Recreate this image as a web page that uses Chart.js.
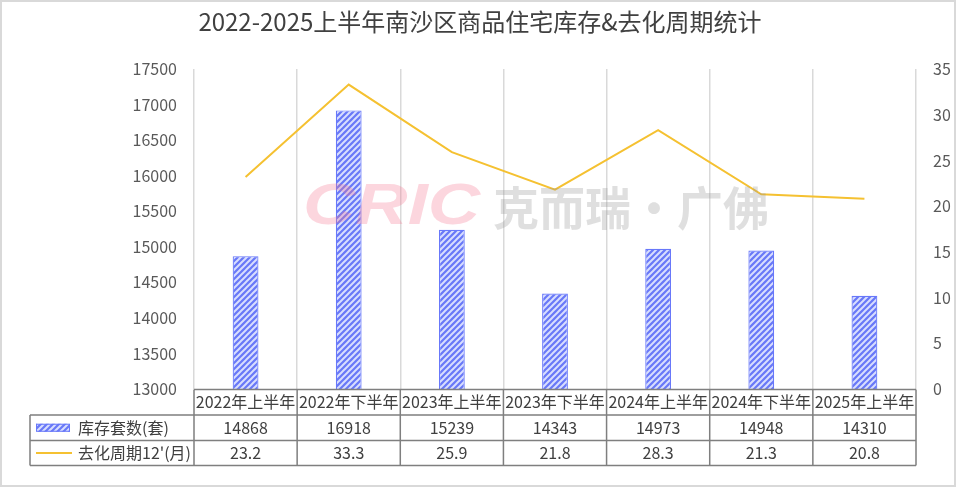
<!DOCTYPE html>
<html><head><meta charset="utf-8">
<script src="https://cdn.jsdelivr.net/npm/chart.js@4.4.1/dist/chart.umd.min.js"></script>
<style>html,body{margin:0;padding:0;background:#fff;}#wrap{width:960px;height:498px;}</style>
</head><body><div id="wrap"><canvas id="c" width="960" height="498"></canvas></div>
<script>
const titleText = '2022-2025上半年南沙区商品住宅库存&去化周期统计';
const categories = ['2022年上半年','2022年下半年','2023年上半年','2023年下半年','2024年上半年','2024年下半年','2025年上半年'];
const inventory = [14868,16918,15239,14343,14973,14948,14310];
const cycle = [23.2,33.3,25.9,21.8,28.3,21.3,20.8];
const seriesNames = ['库存套数(套)', "去化周期12'(月)"];
const leftAxis = [13000, 17500, 500];
const rightAxis = [0, 35, 5];
const watermarkText = ['CRIC', '克而瑞·广佛'];

const FONT = '"Noto Sans CJK SC", "Microsoft YaHei", sans-serif';
Chart.defaults.font.family = FONT;

function hatch(){
  const p = document.createElement('canvas'); p.width = 6; p.height = 6;
  const g = p.getContext('2d');
  g.fillStyle = '#6878f8'; g.fillRect(0,0,6,6);
  g.strokeStyle = '#d8defe'; g.lineWidth = 2.0;
  g.beginPath();
  g.moveTo(0,6); g.lineTo(6,0);
  g.moveTo(-3,3); g.lineTo(3,-3);
  g.moveTo(3,9); g.lineTo(9,3);
  g.stroke();
  return g.createPattern(p,'repeat');
}
const pat = hatch();
const BAR_BORDER = '#6878fa';
const LINE_COLOR = '#f5c131';

const deco = {
  id:'deco',
  afterDraw(chart){
    const ctx = chart.ctx;
    const xs = chart.scales.x;
    ctx.save();
    // watermark
    ctx.textBaseline = 'middle';
    ctx.textAlign = 'left';
    ctx.save();
    ctx.translate(303, 208);
    ctx.scale(1.25, 1);
    ctx.font = 'italic bold 58px "Liberation Sans", sans-serif';
    ctx.fillStyle = 'rgba(244,120,145,0.30)';
    ctx.fillText(watermarkText[0], 0, 0);
    ctx.restore();
    ctx.font = 'bold 46px ' + FONT;
    ctx.fillStyle = 'rgba(150,150,150,0.30)';
    ctx.fillText(watermarkText[1], 493, 208);

    // title
    ctx.fillStyle = '#404040';
    ctx.textAlign = 'center';
    ctx.font = '24px ' + FONT;
    ctx.fillText(titleText, 480, 22);

    // table
    const n = categories.length;
    const cw = (xs.right - xs.left) / n;
    const L = xs.left, R = xs.right;
    const rows = [389.5, 415, 440.5, 465.5];
    const lx = 30;
    ctx.strokeStyle = '#7f7f7f';
    ctx.lineWidth = 1.5;
    ctx.beginPath();
    ctx.moveTo(L, rows[0]); ctx.lineTo(R, rows[0]);
    for (let r = 1; r < 4; r++){ ctx.moveTo(lx, rows[r]); ctx.lineTo(R, rows[r]); }
    for (let i = 0; i <= n; i++){
      const x = L + i*cw;
      ctx.moveTo(x, rows[0]); ctx.lineTo(x, rows[3]);
    }
    ctx.moveTo(lx, rows[1]); ctx.lineTo(lx, rows[3]);
    ctx.stroke();

    ctx.font = '16px ' + FONT;
    ctx.fillStyle = '#404040';
    ctx.textAlign = 'center';
    for (let i = 0; i < n; i++){
      const cx = xs.getPixelForValue(i);
      ctx.fillText(categories[i], cx, (rows[0]+rows[1])/2);
      ctx.fillText(String(inventory[i]), cx, (rows[1]+rows[2])/2);
      ctx.fillText(cycle[i].toFixed(1), cx, (rows[2]+rows[3])/2);
    }
    // legend cells
    const y1 = (rows[1]+rows[2])/2, y2 = (rows[2]+rows[3])/2;
    ctx.fillStyle = pat;
    ctx.fillRect(36, y1-4, 34, 8);
    ctx.strokeStyle = BAR_BORDER; ctx.lineWidth = 1;
    ctx.strokeRect(36.5, y1-3.5, 33, 7);
    ctx.strokeStyle = LINE_COLOR; ctx.lineWidth = 2;
    ctx.beginPath(); ctx.moveTo(36, y2); ctx.lineTo(72, y2); ctx.stroke();
    ctx.fillStyle = '#404040';
    ctx.textAlign = 'left';
    ctx.fillText(seriesNames[0], 78, y1);
    ctx.fillText(seriesNames[1], 78, y2);

    // outer border
    ctx.strokeStyle = '#d9d9d9'; ctx.lineWidth = 2;
    ctx.strokeRect(1, 1, 954, 485);
    ctx.restore();
  }
};

new Chart(document.getElementById('c'), {
  data: {
    labels: categories,
    datasets: [
      { type:'line', label: seriesNames[1], data: cycle, yAxisID:'y1', borderColor: LINE_COLOR, borderWidth: 2, pointRadius: 0, tension: 0, order: 0 },
      { type:'bar', label: seriesNames[0], data: inventory, yAxisID:'y', backgroundColor: pat, borderColor: BAR_BORDER, borderWidth: 1.2, barPercentage: 0.25, categoryPercentage: 1, order: 1 }
    ]
  },
  options: {
    responsive: false,
    animation: false,
    devicePixelRatio: 1,
    layout: { padding: { top: 69, bottom: 109, left: 0, right: 0 } },
    plugins: { legend: { display: false }, tooltip: { enabled: false }, title: { display: false } },
    scales: {
      x: {
        type: 'category',
        offset: true,
        grid: { offset: true, color: '#d9d9d9', lineWidth: 1.5, drawTicks: false },
        ticks: { display: false },
        border: { display: false },
        afterFit(s){ s.height = 0; }
      },
      y: {
        position: 'left', min: leftAxis[0], max: leftAxis[1],
        ticks: { stepSize: leftAxis[2], color: '#595959', font: { size: 16 }, padding: 9, callback: v => String(v) },
        grid: { display: false }, border: { display: false },
        afterFit(s){ s.width = 194; }
      },
      y1: {
        position: 'right', min: rightAxis[0], max: rightAxis[1],
        ticks: { stepSize: rightAxis[2], color: '#595959', font: { size: 16 }, padding: 9, callback: v => String(v) },
        grid: { display: false }, border: { display: false },
        afterFit(s){ s.width = 44; }
      }
    }
  },
  plugins: [deco]
});
</script></body></html>
